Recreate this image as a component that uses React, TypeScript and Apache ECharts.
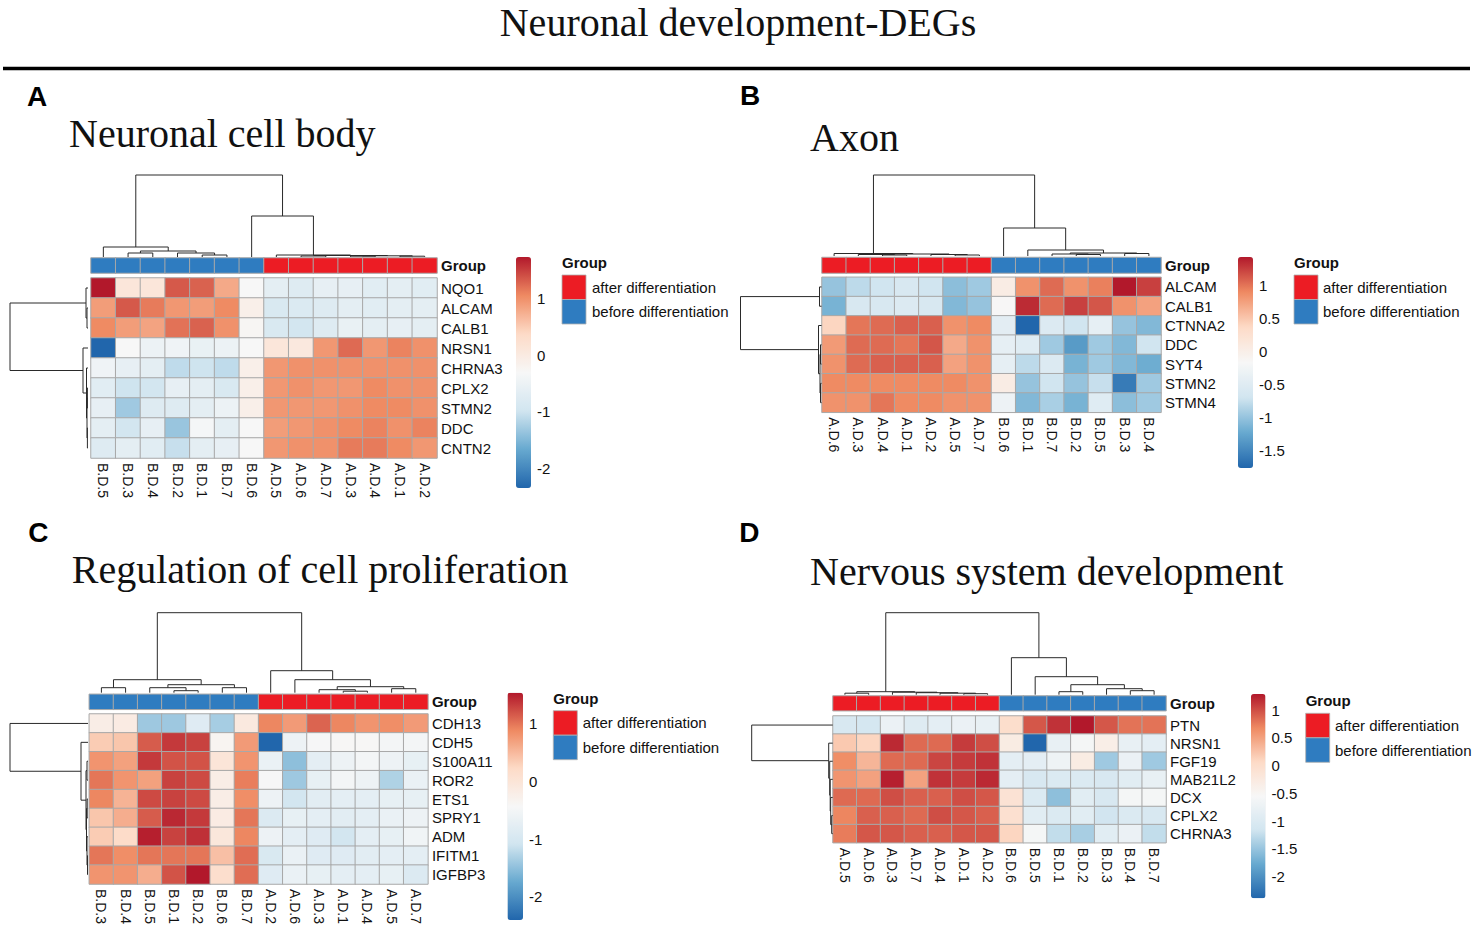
import React, { useEffect, useRef } from "react";
import * as echarts from "echarts";

type Tree = number | [number, Tree, Tree];

// ---------------- DATA ----------------
const GROUP_LABELS = ["after differentiation", "before differentiation"];
const GROUP_COLORS = ["#EC1C24", "#2F7CC0"];
const HEAT_COLORS = ["#2166AC", "#67A9CF", "#D1E5F0", "#F7F7F7", "#FDDBC7", "#EF8A62", "#B2182B"];

// Panel A
const A_TITLE = "Neuronal cell body";
const A_COLS = ["B.D.5", "B.D.3", "B.D.4", "B.D.2", "B.D.1", "B.D.7", "B.D.6", "A.D.5", "A.D.6", "A.D.7", "A.D.3", "A.D.4", "A.D.1", "A.D.2"];
const A_ROWS = ["NQO1", "ALCAM", "CALB1", "NRSN1", "CHRNA3", "CPLX2", "STMN2", "DDC", "CNTN2"];
const A_VALUES = [
  [1.74, 0.1, 0.1, 1.35, 1.3, 0.8, -0.3, -0.65, -0.75, -0.6, -0.6, -0.7, -0.65, -0.7],
  [0.9, 1.35, 1.15, 0.95, 0.9, 1.05, -0.1, -0.85, -0.8, -0.75, -0.65, -0.7, -0.65, -0.65],
  [1.05, 0.9, 0.85, 1.2, 1.3, 1.0, -0.25, -0.85, -0.95, -0.75, -0.55, -0.65, -0.6, -0.65],
  [-2.35, -0.3, -0.5, -0.45, -0.55, -0.5, -0.3, 0.1, 0.05, 0.95, 1.25, 0.95, 1.1, 1.0],
  [-0.45, -0.6, -0.65, -1.1, -1.0, -1.1, -0.1, 0.95, 1.0, 1.0, 1.0, 1.0, 1.0, 1.0],
  [-0.7, -1.0, -0.95, -0.6, -0.65, -0.85, -0.1, 0.95, 1.0, 0.95, 0.95, 1.05, 1.0, 1.0],
  [-0.6, -1.3, -0.75, -0.75, -0.65, -0.5, -0.1, 0.95, 0.95, 0.95, 1.0, 1.05, 1.05, 1.0],
  [-0.65, -0.95, -0.6, -1.35, -0.35, -0.65, -0.3, 0.9, 0.95, 1.0, 1.05, 1.1, 1.0, 1.1],
  [-0.75, -0.65, -0.7, -1.05, -0.65, -0.6, -0.3, 0.95, 1.0, 1.0, 1.15, 1.15, 1.05, 0.95],
];
const A_TICKS = [-2, -1, 0, 1];
const A_COL_TREE: Tree = [82, [10, 0, [6, [4, 1, 2], [4, 3, [2, 4, 5]]]], [41, 6, [2, 7, [1.5, [1, 8, 9], [1.2, [0.8, 10, 11], [0.8, 12, 13]]]]]];
const A_ROW_TREE: Tree = [78, [2, 0, [1, 1, 2]], [5, 3, [1.5, 4, [1, [0.6, 5, 6], [0.6, 7, 8]]]]];

// Panel B
const B_TITLE = "Axon";
const B_COLS = ["A.D.6", "A.D.3", "A.D.4", "A.D.1", "A.D.2", "A.D.5", "A.D.7", "B.D.6", "B.D.1", "B.D.7", "B.D.2", "B.D.5", "B.D.3", "B.D.4"];
const B_ROWS = ["ALCAM", "CALB1", "CTNNA2", "DDC", "SYT4", "STMN2", "STMN4"];
const B_VALUES = [
  [-1.0, -0.8, -0.7, -0.6, -0.7, -1.05, -0.95, 0.05, 0.85, 1.05, 0.85, 0.95, 1.44, 1.25],
  [-1.15, -0.6, -0.6, -0.55, -0.6, -1.1, -1.0, -0.15, 1.35, 1.05, 1.25, 1.15, 0.85, 0.75],
  [0.4, 1.0, 1.05, 1.1, 1.1, 0.85, 0.9, -0.45, -1.77, -0.55, -0.7, -0.4, -1.0, -1.1],
  [0.8, 1.05, 1.05, 1.0, 1.15, 0.7, 0.85, -0.4, -0.5, -0.95, -1.35, -0.95, -1.1, -0.7],
  [0.85, 1.05, 1.1, 1.1, 1.1, 0.75, 0.85, -0.4, -0.8, -0.55, -1.15, -0.95, -1.1, -1.2],
  [0.9, 0.9, 0.9, 0.9, 0.9, 0.9, 0.85, 0.05, -1.0, -0.7, -1.0, -0.75, -1.6, -0.95],
  [0.85, 0.85, 1.0, 0.9, 0.9, 0.85, 0.85, -0.3, -1.1, -0.9, -1.15, -0.5, -1.05, -0.95],
];
const B_TICKS = [-1.5, -1, -0.5, 0, 0.5, 1];
const B_COL_TREE: Tree = [81, [2.5, 0, [2, [1.5, 1, [1, 2, 3]], [1.5, 4, [1, 5, 6]]]], [28, 7, [6, 8, [3, [2, 9, [1.5, 10, 11]], [2.5, 12, 13]]]]];
const B_ROW_TREE: Tree = [81, [2, 0, 1], [3, 2, [1.5, [1, 3, 4], [1, 5, 6]]]];

// Panel C
const C_TITLE = "Regulation of cell proliferation";
const C_COLS = ["B.D.3", "B.D.4", "B.D.5", "B.D.1", "B.D.2", "B.D.6", "B.D.7", "A.D.2", "A.D.6", "A.D.3", "A.D.1", "A.D.4", "A.D.5", "A.D.7"];
const C_ROWS = ["CDH13", "CDH5", "S100A11", "ROR2", "ETS1", "SPRY1", "ADM", "IFITM1", "IGFBP3"];
const C_VALUES = [
  [-0.2, -0.15, -1.4, -1.4, -0.85, -1.35, -0.1, 0.9, 0.75, 1.1, 0.9, 0.8, 0.85, 0.75],
  [0.35, 0.4, 1.15, 1.35, 1.3, -0.35, 0.75, -2.4, -0.6, -0.45, -0.4, -0.4, -0.5, -0.5],
  [0.8, 0.7, 1.35, 1.2, 1.2, 0.0, 0.8, -0.65, -1.5, -0.75, -0.6, -0.5, -0.6, -0.7],
  [1.0, 0.8, 0.7, 1.3, 1.25, -0.2, 0.95, -0.45, -1.4, -0.7, -0.5, -0.6, -1.3, -0.65],
  [0.9, 0.55, 1.25, 1.3, 1.25, -0.2, 0.85, -0.6, -1.05, -0.8, -0.75, -0.75, -0.7, -0.7],
  [0.4, 0.6, 1.15, 1.45, 1.35, -0.15, 1.0, -0.9, -0.7, -0.75, -0.8, -0.75, -0.65, -0.6],
  [0.35, 0.2, 1.5, 1.3, 1.4, -0.05, 0.9, -0.6, -0.75, -0.85, -1.05, -0.75, -0.7, -0.55],
  [1.0, 0.85, 1.0, 1.0, 1.0, 0.45, 1.05, -0.95, -0.65, -0.85, -0.85, -0.8, -0.75, -0.75],
  [0.8, 0.8, 0.6, 1.2, 1.54, 0.15, 1.05, -0.85, -0.65, -0.7, -0.75, -0.75, -0.7, -0.9],
];
const C_TICKS = [-2, -1, 0, 1];
const C_COL_TREE: Tree = [80, [13, [5, 0, 1], [8, [5, 2, [2, 3, 4]], [5, 5, 6]]], [22, 7, [13, 8, [6, [3, 9, [1.5, 10, 11]], [4, 12, 13]]]]];
const C_ROW_TREE: Tree = [78, 0, [7, 1, [2, [1, 2, 3], [1.5, [0.8, 4, 5], [1, 6, [0.5, 7, 8]]]]]];

// Panel D
const D_TITLE = "Nervous system development";
const D_COLS = ["A.D.5", "A.D.6", "A.D.3", "A.D.7", "A.D.4", "A.D.1", "A.D.2", "B.D.6", "B.D.5", "B.D.1", "B.D.2", "B.D.3", "B.D.4", "B.D.7"];
const D_ROWS = ["PTN", "NRSN1", "FGF19", "MAB21L2", "DCX", "CPLX2", "CHRNA3"];
const D_VALUES = [
  [-1.05, -1.1, -0.75, -0.95, -0.85, -0.75, -0.8, 0.0, 0.95, 1.15, 1.29, 0.95, 0.8, 0.8],
  [0.2, 0.1, 1.2, 0.85, 0.85, 1.1, 1.0, -0.3, -2.39, -0.8, -0.6, -0.35, -0.8, -0.85],
  [0.65, 0.35, 0.85, 0.85, 1.05, 1.1, 1.15, -0.85, -0.85, -0.7, -0.3, -1.45, -0.75, -1.45],
  [0.6, 0.5, 1.25, 0.5, 1.15, 1.1, 1.2, -0.85, -1.05, -1.0, -1.0, -1.05, -0.9, -0.8],
  [0.85, 0.85, 1.0, 0.9, 0.9, 1.0, 0.95, -0.1, -1.0, -1.55, -0.9, -1.05, -0.6, -0.6],
  [0.7, 0.9, 0.9, 0.85, 1.0, 0.95, 0.9, -0.05, -0.9, -1.0, -0.9, -1.15, -1.0, -1.05],
  [0.75, 0.95, 0.95, 0.9, 0.9, 0.95, 0.95, 0.1, -0.6, -1.25, -1.4, -0.9, -0.75, -1.25],
];
const D_TICKS = [-2, -1.5, -1, -0.5, 0, 0.5, 1];
const D_COL_TREE: Tree = [82, [3, [1.5, 0, 1], [2.5, 2, [2, 3, [1.5, 4, [1, 5, 6]]]]], [37, 7, [18, 8, [10, [3, 9, 10], [6, 11, [4, 12, 13]]]]]];
const D_ROW_TREE: Tree = [81, 0, [4, 1, [3, 2, [2.5, 3, [2, 4, [1, 5, 6]]]]]];

// ---------------- LAYOUT / STYLE ----------------
const SANS = '"Liberation Sans", Arial, Helvetica, sans-serif';
const SERIF = '"Liberation Serif", "Times New Roman", Times, serif';
const MAIN_TITLE = "Neuronal development-DEGs";

const PANELS = [
  {
    letter: "A", title: A_TITLE, cols: A_COLS, rows: A_ROWS, values: A_VALUES, ticks: A_TICKS, colTree: A_COL_TREE, rowTree: A_ROW_TREE,
    L: {
      letter: [27, 96.3], title: [69, 133.2],
      heat: { l: 91, t: 278, w: 346, h: 180 }, group: { t: 258, h: 15 },
      colTree: { t: 175, b: 257 }, rowTree: { l: 10, r: 88 },
      cbar: { l: 516, t: 257, w: 15, h: 231 },
      legend: { x: 562, ty: 262, sy: 275, sh: 24.5, tx: 592 },
    },
  },
  {
    letter: "B", title: B_TITLE, cols: B_COLS, rows: B_ROWS, values: B_VALUES, ticks: B_TICKS, colTree: B_COL_TREE, rowTree: B_ROW_TREE,
    L: {
      letter: [740, 95.3], title: [810, 137.2],
      heat: { l: 822, t: 277.3, w: 339, h: 135 }, group: { t: 257.5, h: 15.5 },
      colTree: { t: 175, b: 256 }, rowTree: { l: 740.5, r: 821.5 },
      cbar: { l: 1238, t: 257, w: 15, h: 211 },
      legend: { x: 1294, ty: 262, sy: 275, sh: 24.5, tx: 1323 },
    },
  },
  {
    letter: "C", title: C_TITLE, cols: C_COLS, rows: C_ROWS, values: C_VALUES, ticks: C_TICKS, colTree: C_COL_TREE, rowTree: C_ROW_TREE,
    L: {
      letter: [28.3, 532.6], title: [71.7, 569.8],
      heat: { l: 89.3, t: 714, w: 338.6, h: 170 }, group: { t: 694.3, h: 15 },
      colTree: { t: 612.7, b: 692.7 }, rowTree: { l: 10, r: 88 },
      cbar: { l: 507.5, t: 692.7, w: 15.5, h: 227.3 },
      legend: { x: 553.3, ty: 698.3, sy: 710.7, sh: 24.5, tx: 582.7 },
    },
  },
  {
    letter: "D", title: D_TITLE, cols: D_COLS, rows: D_ROWS, values: D_VALUES, ticks: D_TICKS, colTree: D_COL_TREE, rowTree: D_ROW_TREE,
    L: {
      letter: [739.3, 532.6], title: [810, 571.5],
      heat: { l: 833, t: 716, w: 333, h: 126.7 }, group: { t: 696, h: 14.7 },
      colTree: { t: 612.7, b: 694.7 }, rowTree: { l: 751.7, r: 832.7 },
      cbar: { l: 1251, t: 694, w: 14.5, h: 204.3 },
      legend: { x: 1305.7, ty: 700, sy: 713.3, sh: 24.5, tx: 1335 },
    },
  },
];

function treeSegments(tree: Tree): number[][] {
  const segs: number[][] = [];
  const walk = (t: Tree): [number, number] => {
    if (typeof t === "number") return [t, 0];
    const [h, l, r] = t;
    const a = walk(l);
    const b = walk(r);
    segs.push([a[0], a[1], a[0], h]);
    segs.push([b[0], b[1], b[0], h]);
    segs.push([a[0], h, b[0], h]);
    return [(a[0] + b[0]) / 2, h];
  };
  walk(tree);
  return segs;
}

function rootHeight(t: Tree): number {
  return typeof t === "number" ? 0 : t[0];
}

const segRender = (_params: any, api: any) => {
  const p1 = api.coord([api.value(0), api.value(1)]);
  const p2 = api.coord([api.value(2), api.value(3)]);
  return {
    type: "line",
    shape: { x1: p1[0], y1: p1[1], x2: p2[0], y2: p2[1] },
    style: { stroke: "#2a2a2a", lineWidth: 1 },
  };
};

function buildOption() {
  const grids: any[] = [];
  const xAxes: any[] = [];
  const yAxes: any[] = [];
  const series: any[] = [];
  const visualMaps: any[] = [];
  const graphics: any[] = [];
  const hidden = { show: false };

  graphics.push({
    type: "text", x: 738, y: 22.2,
    style: { text: MAIN_TITLE, font: `40px ${SERIF}`, lineHeight: 34, fill: "#111", textAlign: "center", textVerticalAlign: "middle" },
  });
  graphics.push({
    type: "line", shape: { x1: 3, y1: 68.5, x2: 1470, y2: 68.5 },
    style: { stroke: "#000", lineWidth: 3.5 },
  });

  PANELS.forEach((p) => {
    const L = p.L;
    const nC = p.cols.length;
    const nR = p.rows.length;
    const flat = p.values.flat();
    const vmin = Math.min(...flat);
    const vmax = Math.max(...flat);

    // heatmap grid
    const gHeat = grids.length;
    grids.push({ left: L.heat.l, top: L.heat.t, width: L.heat.w, height: L.heat.h, outerBoundsMode: "none" });
    xAxes.push({
      gridIndex: gHeat, type: "category", data: p.cols, position: "bottom",
      axisLine: hidden, axisTick: hidden, splitLine: hidden,
      axisLabel: { rotate: -90, fontSize: 14, fontFamily: SANS, color: "#111", margin: 5, interval: 0 },
    });
    yAxes.push({
      gridIndex: gHeat, type: "category", data: p.rows, inverse: true, position: "right",
      axisLine: hidden, axisTick: hidden, splitLine: hidden,
      axisLabel: { fontSize: 15, fontFamily: SANS, color: "#111", margin: 4, interval: 0 },
    });
    const sHeat = series.length;
    const heatData: number[][] = [];
    p.values.forEach((row, r) => row.forEach((v, c) => heatData.push([c, r, v])));
    series.push({
      type: "heatmap", xAxisIndex: gHeat, yAxisIndex: gHeat, data: heatData, silent: true,
      itemStyle: { borderColor: "#a8a8a8", borderWidth: 1 }, emphasis: { disabled: true },
    });
    visualMaps.push({
      type: "continuous", seriesIndex: sHeat, dimension: 2, min: vmin, max: vmax,
      inRange: { color: HEAT_COLORS }, orient: "vertical",
      left: L.cbar.l, top: L.cbar.t, itemWidth: L.cbar.w, itemHeight: L.cbar.h,
      padding: 0, calculable: false, hoverLink: false, realtime: false,
    });

    // group annotation bar
    const gGroup = grids.length;
    grids.push({ left: L.heat.l, top: L.group.t, width: L.heat.w, height: L.group.h, outerBoundsMode: "none" });
    xAxes.push({ gridIndex: gGroup, type: "category", data: p.cols, show: false });
    yAxes.push({
      gridIndex: gGroup, type: "category", data: ["Group"], position: "right",
      axisLine: hidden, axisTick: hidden, splitLine: hidden,
      axisLabel: { fontSize: 15, fontWeight: "bold", fontFamily: SANS, color: "#111", margin: 4 },
    });
    const sGroup = series.length;
    series.push({
      type: "heatmap", xAxisIndex: gGroup, yAxisIndex: gGroup, silent: true,
      data: p.cols.map((c, i) => [i, 0, c.startsWith("A.") ? 1 : 0]),
      itemStyle: { borderColor: "#a8a8a8", borderWidth: 1 }, emphasis: { disabled: true },
    });
    visualMaps.push({
      type: "piecewise", show: false, seriesIndex: sGroup, dimension: 2,
      pieces: [{ value: 1, color: GROUP_COLORS[0] }, { value: 0, color: GROUP_COLORS[1] }],
    });

    // column dendrogram
    const gCol = grids.length;
    grids.push({ left: L.heat.l, top: L.colTree.t, width: L.heat.w, height: L.colTree.b - L.colTree.t, outerBoundsMode: "none" });
    xAxes.push({ gridIndex: gCol, type: "value", min: -0.5, max: nC - 0.5, show: false });
    yAxes.push({ gridIndex: gCol, type: "value", min: 0, max: rootHeight(p.colTree), show: false });
    series.push({
      type: "custom", xAxisIndex: gCol, yAxisIndex: gCol, silent: true,
      data: treeSegments(p.colTree), renderItem: segRender,
    });

    // row dendrogram
    const gRow = grids.length;
    grids.push({ left: L.rowTree.l, top: L.heat.t, width: L.rowTree.r - L.rowTree.l, height: L.heat.h, outerBoundsMode: "none" });
    xAxes.push({ gridIndex: gRow, type: "value", min: 0, max: rootHeight(p.rowTree), inverse: true, show: false });
    yAxes.push({ gridIndex: gRow, type: "value", min: -0.5, max: nR - 0.5, inverse: true, show: false });
    series.push({
      type: "custom", xAxisIndex: gRow, yAxisIndex: gRow, silent: true,
      data: treeSegments(p.rowTree).map((s) => [s[1], s[0], s[3], s[2]]), renderItem: segRender,
    });

    // colour-bar tick labels
    const gBar = grids.length;
    grids.push({ left: L.cbar.l, top: L.cbar.t, width: L.cbar.w, height: L.cbar.h, outerBoundsMode: "none" });
    xAxes.push({ gridIndex: gBar, type: "value", min: 0, max: 1, show: false });
    yAxes.push({
      gridIndex: gBar, type: "value", min: vmin, max: vmax, position: "right",
      axisLine: hidden, axisTick: hidden, splitLine: hidden,
      axisLabel: { customValues: p.ticks, fontSize: 15, fontFamily: SANS, color: "#111", margin: 6 },
    });

    // panel letter & title
    graphics.push({
      type: "text", x: L.letter[0], y: L.letter[1],
      style: { text: p.letter, font: `bold 28px ${SANS}`, fill: "#000", textAlign: "left", textVerticalAlign: "middle" },
    });
    graphics.push({
      type: "text", x: L.title[0], y: L.title[1],
      style: { text: p.title, font: `40px ${SERIF}`, fill: "#111", textAlign: "left", textVerticalAlign: "middle" },
    });

    // group legend
    const lg = L.legend;
    graphics.push({
      type: "text", x: lg.x, y: lg.ty,
      style: { text: "Group", font: `bold 15px ${SANS}`, fill: "#111", textAlign: "left", textVerticalAlign: "middle" },
    });
    GROUP_LABELS.forEach((lab, i) => {
      graphics.push({
        type: "rect", shape: { x: lg.x, y: lg.sy + i * lg.sh, width: 24, height: lg.sh },
        style: { fill: GROUP_COLORS[i], stroke: "#b0b0b0", lineWidth: 0.8 },
      });
      graphics.push({
        type: "text", x: lg.tx, y: lg.sy + (i + 0.5) * lg.sh,
        style: { text: lab, font: `15px ${SANS}`, fill: "#111", textAlign: "left", textVerticalAlign: "middle" },
      });
    });
  });

  return {
    animation: false,
    backgroundColor: "#ffffff",
    textStyle: { fontFamily: SANS },
    grid: grids,
    xAxis: xAxes,
    yAxis: yAxes,
    visualMap: visualMaps,
    series,
    graphic: { elements: graphics },
  };
}

export default function App() {
  const ref = useRef<HTMLDivElement>(null);
  useEffect(() => {
    if (!ref.current) return;
    const chart = echarts.init(ref.current, undefined, { renderer: "svg", width: 1476, height: 929 });
    chart.setOption(buildOption() as any);
    return () => chart.dispose();
  }, []);
  return (
    <div
      ref={ref}
      style={{ position: "fixed", left: 0, top: 0, width: 1476, height: 929, background: "#fff" }}
    />
  );
}
